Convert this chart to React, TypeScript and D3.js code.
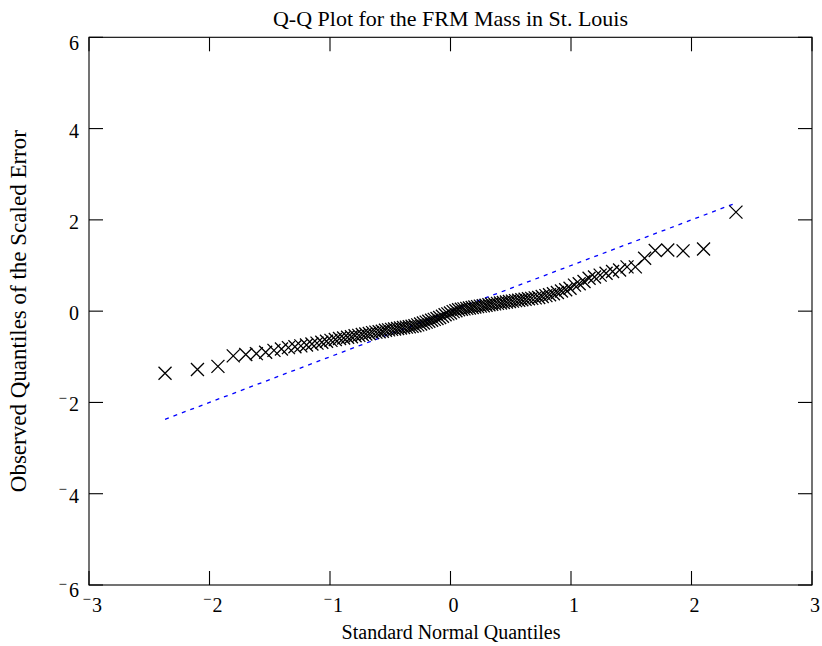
import React from "react";
import * as d3 from "d3";

// Theoretical standard normal quantiles (x) and sorted observed scaled errors (y)
const normalQuantiles = [
  -2.369, -2.1, -1.93, -1.803, -1.699, -1.611, -1.534, -1.465, -1.403, -1.345,
  -1.291, -1.242, -1.195, -1.15, -1.108, -1.068, -1.029, -0.992, -0.956, -0.921,
  -0.887, -0.854, -0.822, -0.792, -0.761, -0.732, -0.703, -0.674, -0.647, -0.619,
  -0.592, -0.566, -0.54, -0.514, -0.489, -0.464, -0.439, -0.415, -0.39, -0.366,
  -0.342, -0.319, -0.295, -0.272, -0.248, -0.225, -0.202, -0.18, -0.157, -0.135,
  -0.112, -0.09, -0.067, -0.045, -0.022, 0,
  0.022, 0.045, 0.067, 0.09, 0.112, 0.135, 0.157, 0.18, 0.202, 0.225,
  0.248, 0.272, 0.295, 0.319, 0.342, 0.366, 0.39, 0.415, 0.439, 0.464,
  0.489, 0.514, 0.54, 0.566, 0.592, 0.619, 0.647, 0.674, 0.703, 0.732,
  0.761, 0.792, 0.822, 0.854, 0.887, 0.921, 0.956, 0.992, 1.029, 1.068,
  1.108, 1.15, 1.195, 1.242, 1.291, 1.345, 1.403, 1.465, 1.534, 1.611,
  1.699, 1.803, 1.93, 2.1, 2.369,
];

const observedQuantiles = [
  -1.36, -1.28, -1.21, -0.98, -0.95, -0.93, -0.9, -0.86, -0.83, -0.8,
  -0.78, -0.76, -0.74, -0.72, -0.7, -0.68, -0.66, -0.64, -0.62, -0.6,
  -0.59, -0.57, -0.56, -0.54, -0.53, -0.51, -0.5, -0.49, -0.47, -0.46,
  -0.45, -0.44, -0.42, -0.41, -0.4, -0.39, -0.38, -0.37, -0.36, -0.35,
  -0.34, -0.33, -0.32, -0.3, -0.28, -0.26, -0.24, -0.22, -0.2, -0.18,
  -0.16, -0.14, -0.11, -0.08, -0.06, -0.04,
  -0.01, 0.01, 0.03, 0.04,
  0.05, 0.06, 0.07, 0.08, 0.09, 0.1, 0.11, 0.12, 0.13, 0.14,
  0.15, 0.16, 0.17, 0.18, 0.19, 0.2, 0.21, 0.22, 0.23, 0.24,
  0.25, 0.26, 0.27, 0.28, 0.29, 0.3, 0.32, 0.34, 0.36, 0.38,
  0.41, 0.44, 0.47, 0.5, 0.57, 0.6, 0.65, 0.72, 0.75, 0.79,
  0.83, 0.87, 0.9, 0.97, 0.97, 1.16, 1.33, 1.34, 1.32, 1.36, 2.17,
];

const refLineX = [-2.369, 2.369];
const refLineY = [-2.369, 2.369];

const xTicks = [-3, -2, -1, 0, 1, 2, 3];
const yTicks = [-6, -4, -2, 0, 2, 4, 6];

const titleText = "Q-Q Plot for the FRM Mass in St. Louis";
const xLabelText = "Standard Normal Quantiles";
const yLabelText = "Observed Quantiles of the Scaled Error";

const W = 822;
const H = 646;
const L = 89;
const R = 812;
const T = 37.3;
const B = 585;
const FONT = "'Liberation Serif', 'Times New Roman', serif";

export default function App() {
  const x = d3.scaleLinear().domain([-3, 3]).range([L, R]);
  const y = d3.scaleLinear().domain([-6, 6]).range([B, T]);
  const tick = 14;
  const line = d3
    .line<number>()
    .x((d) => x(d))
    .y((_, i) => y(refLineY[i]));
  const ms = 6.5;

  const minusEl = (xe: number, yb: number) => (
    <text x={xe} y={yb - 8.5} fontSize={15} textAnchor="end" fontFamily={FONT}>
      −
    </text>
  );

  const yShift = (t: number) => (t === 6 ? 13 : t === -6 ? 12 : 9);

  return (
    <svg
      width={W}
      height={H}
      style={{ position: "absolute", left: 0, top: 0, background: "#fff" }}
    >
      <rect x={0} y={0} width={W} height={H} fill="#fff" />
      {/* reference line */}
      <path
        d={line(refLineX) || ""}
        fill="none"
        stroke="#0000ff"
        strokeWidth={1.3}
        strokeDasharray="4,5"
      />
      {/* markers */}
      <g stroke="#000" strokeWidth={1.3}>
        {normalQuantiles.map((q, i) => {
          const cx = x(q);
          const cy = y(observedQuantiles[i]);
          return (
            <path
              key={i}
              d={`M${cx - ms},${cy - ms}L${cx + ms},${cy + ms}M${cx - ms},${cy + ms}L${cx + ms},${cy - ms}`}
            />
          );
        })}
      </g>
      {/* frame */}
      <rect x={L} y={T} width={R - L} height={B - T} fill="none" stroke="#000" strokeWidth={1.1} />
      <g stroke="#000" strokeWidth={1.1}>
        {xTicks.map((t) => (
          <g key={"xt" + t}>
            <line x1={x(t)} x2={x(t)} y1={B} y2={B - tick} />
            <line x1={x(t)} x2={x(t)} y1={T} y2={T + tick} />
          </g>
        ))}
        {yTicks.map((t) => (
          <g key={"yt" + t}>
            <line x1={L} x2={L + tick} y1={y(t)} y2={y(t)} />
            <line x1={R} x2={R - tick} y1={y(t)} y2={y(t)} />
          </g>
        ))}
      </g>
      {/* tick labels */}
      <g fontFamily={FONT} fontSize={20} fill="#000">
        {xTicks.map((t) => {
          const yb = 612;
          const cx = t < 0 ? x(t) + 8 : x(t) + 3;
          return (
            <g key={"xl" + t}>
              <text x={cx} y={yb} textAnchor="middle">
                {Math.abs(t)}
              </text>
              {t < 0 ? minusEl(cx - 6, yb) : null}
            </g>
          );
        })}
        {yTicks.map((t) => {
          const xe = 79;
          const yb = y(t) + yShift(t);
          return (
            <g key={"yl" + t}>
              <text x={xe} y={yb} textAnchor="end">
                {Math.abs(t)}
              </text>
              {t < 0 ? minusEl(xe - 12, yb) : null}
            </g>
          );
        })}
      </g>
      {/* title and labels */}
      <text x={450.5} y={26} textAnchor="middle" fontFamily={FONT} fontSize={22}>
        {titleText}
      </text>
      <text x={451} y={639} textAnchor="middle" fontFamily={FONT} fontSize={20}>
        {xLabelText}
      </text>
      <text
        transform={`translate(26,${(T + B) / 2}) rotate(-90)`}
        textAnchor="middle"
        fontFamily={FONT}
        fontSize={23}
      >
        {yLabelText}
      </text>
    </svg>
  );
}
